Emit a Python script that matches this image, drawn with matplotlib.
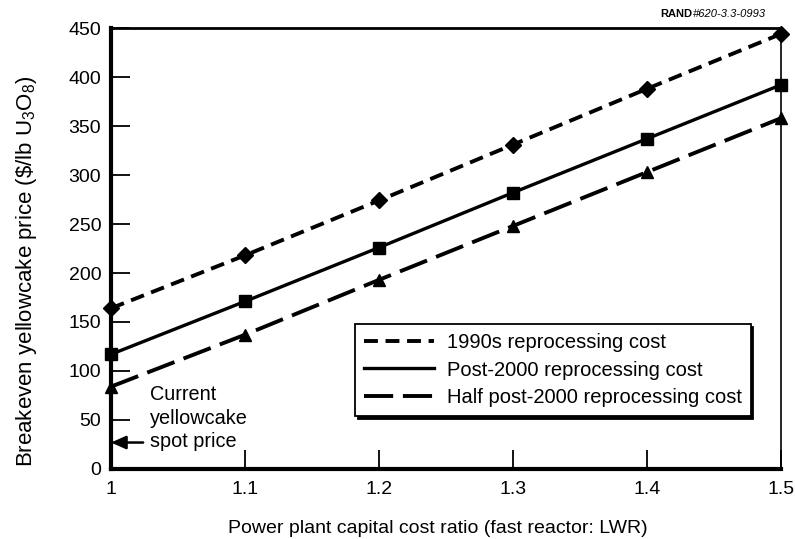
import matplotlib
matplotlib.use('Agg')
import matplotlib.pyplot as plt

plt.rcParams['font.family'] = ['Liberation Sans', 'DejaVu Sans']
plt.rcParams['mathtext.fontset'] = 'custom'
plt.rcParams['mathtext.rm'] = 'Liberation Sans'
plt.rcParams['mathtext.it'] = 'Liberation Sans:italic'
plt.rcParams['lines.scale_dashes'] = False

### data ###
ratio = [1.0, 1.1, 1.2, 1.3, 1.4, 1.5]
cost_1990s = [164, 218, 274, 331, 388, 444]
cost_post2000 = [117, 171, 226, 282, 337, 392]
cost_half_post2000 = [84, 137, 193, 248, 303, 358]
spot_price = 27
labels = ['1990s reprocessing cost', 'Post-2000 reprocessing cost',
          'Half post-2000 reprocessing cost']

fig = plt.figure(figsize=(7.95, 5.39), dpi=100)
ax = fig.add_axes([0.1396, 0.1299, 0.8428, 0.8181])

ax.plot(ratio, cost_1990s, color='black', lw=2.8, dashes=(10, 5.5),
        marker='D', markersize=8.5, label=labels[0], clip_on=False)
ax.plot(ratio, cost_post2000, color='black', lw=2.4, ls='-',
        marker='s', markersize=8, label=labels[1], clip_on=False)
ax.plot(ratio, cost_half_post2000, color='black', lw=2.8, dashes=(21, 7),
        marker='^', markersize=9, label=labels[2], clip_on=False)

ax.set_xlim(1.0, 1.5)
ax.set_ylim(0, 450)
ax.set_xticks(ratio)
ax.set_xticklabels(['1', '1.1', '1.2', '1.3', '1.4', '1.5'])
ax.set_yticks(range(0, 451, 50))
ax.tick_params(axis='both', direction='in', length=14, width=1.3,
               labelsize=14, color='black')
ax.tick_params(axis='y', pad=7)
ax.tick_params(axis='x', pad=9)

ax.spines['left'].set_linewidth(3)
ax.spines['bottom'].set_linewidth(3)
ax.spines['top'].set_linewidth(2)
ax.spines['right'].set_linewidth(1.2)

ax.set_xlabel('Power plant capital cost ratio (fast reactor: LWR)', fontsize=14)
ax.set_ylabel('Breakeven yellowcake price (\\$/lb U$_3$O$_8$)', fontsize=16)
ax.xaxis.set_label_coords(0.488, -0.115)
ax.yaxis.set_label_coords(-0.108, 0.449)

# spot price arrow and note
ax.annotate('', xy=(1.0, spot_price), xytext=(1.024, spot_price),
            arrowprops=dict(arrowstyle='-|>,head_length=0.9,head_width=0.4',
                            color='black', lw=1.8, shrinkA=0, shrinkB=0))
ax.text(1.029, 52, 'Current\nyellowcake\nspot price', fontsize=14.3,
        va='center', ha='left', linespacing=1.3)

leg = ax.legend(loc='lower left', bbox_to_anchor=(0.364, 0.12), fontsize=14.5,
                handlelength=3.5, frameon=True, fancybox=False,
                shadow={'color': 'black', 'alpha': 1}, borderpad=0.45,
                labelspacing=0.42, handletextpad=0.6, borderaxespad=0)
leg.get_frame().set_edgecolor('black')
leg.get_frame().set_linewidth(1.3)
leg.get_frame().set_alpha(1)
for h in leg.get_lines():
    h.set_marker('')

fig.text(692 / 795, 1 - 14 / 539, 'RAND', fontsize=8, fontweight='bold',
         ha='right', va='center')
fig.text(693 / 795, 1 - 14 / 539, '#620-3.3-0993', fontsize=8, style='italic',
         ha='left', va='center')

plt.savefig('out.png', dpi=100)
